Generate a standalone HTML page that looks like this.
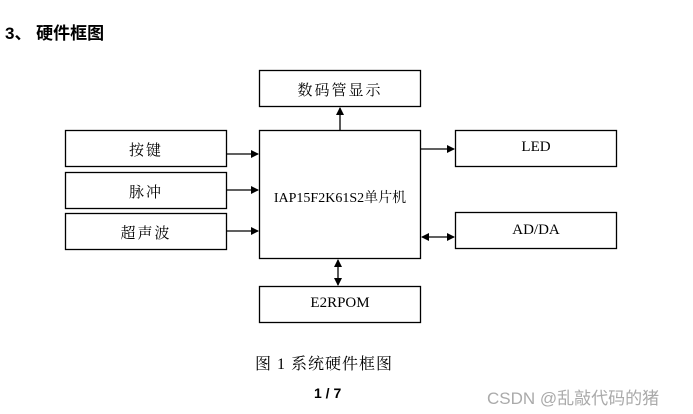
<!DOCTYPE html>
<html><head><meta charset="utf-8"><style>
body{margin:0;width:693px;height:414px;background:#fff;overflow:hidden;position:relative;font-family:"Liberation Serif","Noto Serif CJK SC",serif;}
.t{position:absolute;white-space:nowrap}
</style></head><body>
<svg width="693" height="414" style="position:absolute;left:0;top:0">
<defs><marker id="a" markerWidth="8" markerHeight="8" refX="7" refY="4" orient="auto-start-reverse" markerUnits="userSpaceOnUse"><path d="M0,0L8,4L0,8z" fill="#000"/></marker></defs>
<g fill="none" stroke="#000" stroke-width="1.3">
<rect x="259.5" y="70.5" width="161" height="36"/>
<rect x="65.5" y="130.5" width="161" height="36"/>
<rect x="65.5" y="172.5" width="161" height="36"/>
<rect x="65.5" y="213.5" width="161" height="36"/>
<rect x="259.5" y="130.5" width="161" height="128"/>
<rect x="455.5" y="130.5" width="161" height="36"/>
<rect x="455.5" y="212.5" width="161" height="36"/>
<rect x="259.5" y="286.5" width="161" height="36"/>
<line x1="340" y1="130" x2="340" y2="108" marker-end="url(#a)"/>
<line x1="227" y1="154" x2="258" y2="154" marker-end="url(#a)"/>
<line x1="227" y1="190" x2="258" y2="190" marker-end="url(#a)"/>
<line x1="227" y1="231" x2="258" y2="231" marker-end="url(#a)"/>
<line x1="421" y1="149" x2="454" y2="149" marker-end="url(#a)"/>
<line x1="422" y1="237" x2="454" y2="237" marker-start="url(#a)" marker-end="url(#a)"/>
<line x1="338" y1="260" x2="338" y2="285" marker-start="url(#a)" marker-end="url(#a)"/>
</g></svg>
<div class="t" style="left:5px;top:19px;font-size:17px;font-weight:bold;font-family:'Liberation Sans','Noto Sans CJK SC',sans-serif">3、 硬件框图</div>
<div class="t" style="left:259px;width:162px;top:79px;text-align:center;font-size:15px;letter-spacing:2px">数码管显示</div>
<div class="t" style="left:65px;width:162px;top:139px;text-align:center;font-size:15px;letter-spacing:2px">按键</div>
<div class="t" style="left:65px;width:162px;top:181px;text-align:center;font-size:15px;letter-spacing:2px">脉冲</div>
<div class="t" style="left:65px;width:162px;top:222px;text-align:center;font-size:15px;letter-spacing:2px">超声波</div>
<div class="t" style="left:259px;width:162px;top:187px;text-align:center;font-size:14px">IAP15F2K61S2单片机</div>
<div class="t" style="left:455px;width:162px;top:139px;text-align:center;font-size:15px">LED</div>
<div class="t" style="left:455px;width:162px;top:222px;text-align:center;font-size:15px">AD/DA</div>
<div class="t" style="left:259px;width:162px;top:295px;text-align:center;font-size:15px">E2RPOM</div>
<div class="t" style="left:255px;top:351px;font-size:16px;letter-spacing:1px">图 1 系统硬件框图</div>
<div class="t" style="left:314px;top:385px;font-size:14px;font-weight:bold;font-family:'Liberation Sans',sans-serif">1 / 7</div>
<div class="t" style="left:487px;top:384px;font-size:17px;color:#aaa;font-family:'Liberation Sans','Noto Sans CJK SC',sans-serif">CSDN @乱敲代码的猪</div>
</body></html>
